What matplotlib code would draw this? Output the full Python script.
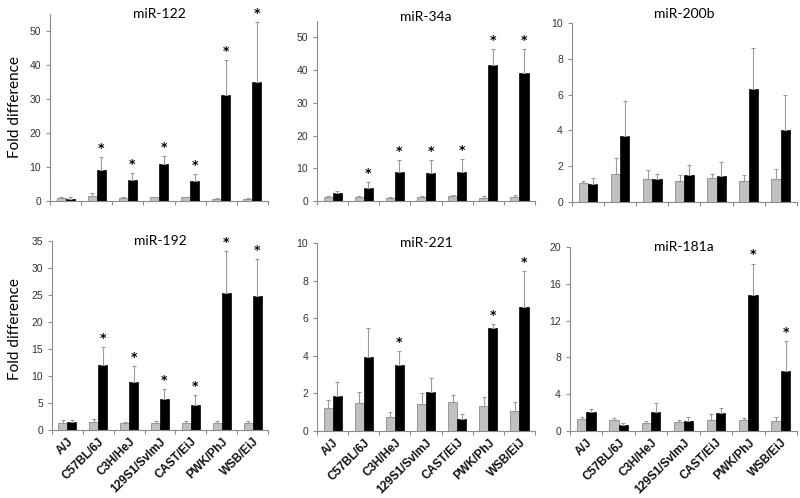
import numpy as np
import matplotlib
matplotlib.use("Agg")
import matplotlib.pyplot as plt

plt.rcParams['font.family'] = ['Liberation Sans', 'DejaVu Sans']

strains = ['A/J', 'C57BL/6J', 'C3H/HeJ', '129S1/SvImJ', 'CAST/EiJ', 'PWK/PhJ', 'WSB/EiJ']

# miR-122
mir122_gray = [0.9, 1.5, 1.0, 1.1, 1.1, 0.7, 0.7]
mir122_gray_err = [0.15, 0.75, 0.2, 0.15, 0.2, 0.3, 0.2]
mir122_black = [0.6, 9.1, 6.1, 10.9, 6.0, 31.1, 34.9]
mir122_black_err = [0.5, 3.7, 2.1, 2.3, 1.9, 10.4, 17.8]
mir122_star = [0, 1, 1, 1, 1, 1, 1]

# miR-34a
mir34a_gray = [1.2, 1.2, 0.9, 1.1, 1.5, 1.0, 1.2]
mir34a_gray_err = [0.3, 0.3, 0.4, 0.3, 0.3, 0.4, 0.6]
mir34a_black = [2.4, 3.9, 8.9, 8.5, 8.9, 41.7, 39.2]
mir34a_black_err = [0.7, 1.8, 3.5, 3.9, 3.9, 4.7, 7.2]
mir34a_star = [0, 1, 1, 1, 1, 1, 1]

# miR-200b
mir200b_gray = [1.05, 1.55, 1.3, 1.16, 1.36, 1.18, 1.31]
mir200b_gray_err = [0.15, 0.88, 0.47, 0.32, 0.23, 0.35, 0.56]
mir200b_black = [0.99, 3.66, 1.31, 1.53, 1.46, 6.3, 4.02]
mir200b_black_err = [0.37, 1.97, 0.28, 0.51, 0.78, 2.3, 1.95]
mir200b_star = [0, 0, 0, 0, 0, 0, 0]

# miR-192
mir192_gray = [1.3, 1.5, 1.3, 1.35, 1.35, 1.35, 1.35]
mir192_gray_err = [0.55, 0.5, 0.25, 0.3, 0.3, 0.35, 0.35]
mir192_black = [1.4, 12.1, 8.9, 5.8, 4.6, 25.4, 24.8]
mir192_black_err = [0.5, 3.3, 2.9, 1.8, 1.8, 7.8, 6.8]
mir192_star = [0, 1, 1, 1, 1, 1, 1]

# miR-221
mir221_gray = [1.25, 1.48, 0.77, 1.43, 1.54, 1.32, 1.05]
mir221_gray_err = [0.38, 0.57, 0.25, 0.57, 0.39, 0.5, 0.52]
mir221_black = [1.88, 3.93, 3.5, 2.07, 0.66, 5.5, 6.6]
mir221_black_err = [0.75, 1.57, 0.75, 0.73, 0.27, 0.2, 1.9]
mir221_star = [0, 0, 1, 0, 0, 1, 1]

# miR-181a
mir181a_gray = [1.26, 1.15, 0.86, 0.97, 1.19, 1.19, 1.08]
mir181a_gray_err = [0.29, 0.29, 0.19, 0.22, 0.65, 0.21, 0.47]
mir181a_black = [2.09, 0.65, 2.09, 1.05, 1.91, 14.8, 6.5]
mir181a_black_err = [0.25, 0.18, 0.91, 0.46, 0.54, 3.4, 3.3]
mir181a_star = [0, 0, 0, 0, 0, 1, 1]

panels = [
    ('miR-122', mir122_gray, mir122_gray_err, mir122_black, mir122_black_err, mir122_star, 55, [0, 10, 20, 30, 40, 50]),
    ('miR-34a', mir34a_gray, mir34a_gray_err, mir34a_black, mir34a_black_err, mir34a_star, 55, [0, 10, 20, 30, 40, 50]),
    ('miR-200b', mir200b_gray, mir200b_gray_err, mir200b_black, mir200b_black_err, mir200b_star, 10, [0, 2, 4, 6, 8, 10]),
    ('miR-192', mir192_gray, mir192_gray_err, mir192_black, mir192_black_err, mir192_star, 35, [0, 5, 10, 15, 20, 25, 30, 35]),
    ('miR-221', mir221_gray, mir221_gray_err, mir221_black, mir221_black_err, mir221_star, 10, [0, 2, 4, 6, 8, 10]),
    ('miR-181a', mir181a_gray, mir181a_gray_err, mir181a_black, mir181a_black_err, mir181a_star, 20, [0, 4, 8, 12, 16, 20]),
]

# axes rectangles in figure fraction
rects = [
    [0.0625, 0.5964, 0.2725, 0.3755],
    [0.3963, 0.5964, 0.2725, 0.3614],
    [0.715, 0.5944, 0.281, 0.3594],
    [0.065, 0.1365, 0.27, 0.3795],
    [0.3963, 0.1345, 0.2725, 0.3775],
    [0.7125, 0.1345, 0.2838, 0.3695],
]
title_y = [1.0, 1.02, 1.05, 1.0, 1.0, 1.0]

fig = plt.figure(figsize=(8, 4.98), dpi=100)

x = np.arange(len(strains))
w = 0.29
spine_col = '#8c8c8c'
ekw = dict(ecolor='#9a9a9a', elinewidth=0.8, capsize=1.5, capthick=0.8)

for i, (name, g, ge, b, be, star, ymax, yt) in enumerate(panels):
    ax = fig.add_axes(rects[i])
    ax.bar(x - w / 2, g, w, color='#c0c0c0', edgecolor='#7a7a7a', linewidth=0.5,
           yerr=[np.zeros(len(g)), ge], error_kw=ekw)
    ax.bar(x + w / 2, b, w, color='black', edgecolor='black', linewidth=0.5,
           yerr=[np.zeros(len(b)), be], error_kw=ekw)
    for j in range(len(strains)):
        if star[j]:
            ax.annotate('*', (x[j] + w / 2, b[j] + be[j]), xytext=(0, 1.5), textcoords='offset points',
                        ha='center', va='bottom', fontsize=9, fontweight='bold', family='DejaVu Sans')

    ax.set_xlim(-0.5, len(strains) - 0.5)
    ax.set_ylim(0, ymax)
    ax.set_yticks(yt)
    ax.tick_params(axis='y', labelsize=7.5, labelcolor='#333333', color=spine_col, length=3, width=0.8)
    ax.set_xticks(np.arange(len(strains) + 1) - 0.5, minor=True)
    ax.tick_params(axis='x', which='minor', color=spine_col, length=3, width=0.8)
    ax.set_xticks(x)
    ax.tick_params(axis='x', which='major', length=0, pad=4)
    if i >= 3:
        ax.set_xticklabels(strains, rotation=45, ha='right', rotation_mode='anchor',
                           fontsize=8.5, fontweight='bold', color='#111111')
    else:
        ax.set_xticklabels([])
    for s in ['top', 'right']:
        ax.spines[s].set_visible(False)
    for s in ['left', 'bottom']:
        ax.spines[s].set_color(spine_col)
        ax.spines[s].set_linewidth(0.8)

    ax.text(0.5, title_y[i], name, transform=ax.transAxes, ha='center', va='center',
            fontsize=10, family='Lato')

fig.text(0.019, 0.785, 'Fold difference', rotation=90, ha='center', va='center', fontsize=11, family='Lato')
fig.text(0.019, 0.339, 'Fold difference', rotation=90, ha='center', va='center', fontsize=11, family='Lato')

fig.savefig('out.png', dpi=100)
